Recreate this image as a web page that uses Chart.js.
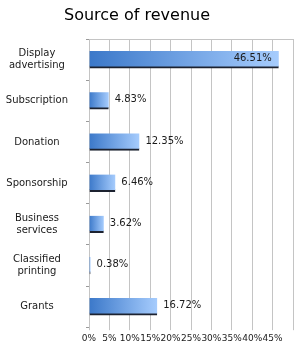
<!DOCTYPE html>
<html>
<head>
<meta charset="utf-8">
<script src="https://cdn.jsdelivr.net/npm/chart.js@4/dist/chart.umd.min.js"></script>
<style>
  html, body { margin: 0; padding: 0; background: #ffffff; }
  #wrap { width: 301px; height: 350px; }
</style>
</head>
<body>
<div id="wrap"><canvas id="c" width="301" height="350"></canvas></div>
<script>
const chartTitle = 'Source of revenue';
const categories = [
  ['Display', 'advertising'],
  'Subscription',
  'Donation',
  'Sponsorship',
  ['Business', 'services'],
  ['Classified', 'printing'],
  'Grants'
];
const revenueShare = [46.51, 4.83, 12.35, 6.46, 3.62, 0.38, 16.72];
const xTickLabels = ['0%', '5%', '10%', '15%', '20%', '25%', '30%', '35%', '40%', '45%'];

const FONT = 'DejaVu Sans';

const titlePlugin = {
  id: 'customTitle',
  afterDraw(chart) {
    const c = chart.ctx;
    c.save();
    c.font = '16px "' + FONT + '"';
    c.fillStyle = '#000000';
    c.textAlign = 'center';
    c.textBaseline = 'alphabetic';
    c.fillText(chartTitle, 137, 20);
    c.restore();
  }
};

const valueLabels = {
  id: 'valueLabels',
  afterDatasetsDraw(chart) {
    const c = chart.ctx;
    const meta = chart.getDatasetMeta(0);
    const right = chart.chartArea.right;
    c.save();
    c.font = '10px "' + FONT + '"';
    c.fillStyle = '#1a1a1a';
    c.textBaseline = 'middle';
    meta.data.forEach((bar, i) => {
      const v = chart.data.datasets[0].data[i];
      const txt = v.toFixed(2) + '%';
      const w = c.measureText(txt).width;
      const y = bar.y - 1;
      if (bar.x + 6 + w > right) {
        c.textAlign = 'right';
        c.fillText(txt, bar.x - 7, y);
      } else {
        c.textAlign = 'left';
        c.fillText(txt, bar.x + 6, y);
      }
    });
    c.restore();
  }
};

function barGradient(context) {
  const chart = context.chart;
  if (!chart.chartArea || !chart.scales.x) return '#6fa0e0';
  const xs = chart.scales.x;
  const x0 = xs.getPixelForValue(0);
  let x1 = xs.getPixelForValue(context.raw);
  if (!isFinite(x1) || x1 - x0 < 1) x1 = x0 + 1;
  const g = chart.ctx.createLinearGradient(x0, 0, x1, 0);
  g.addColorStop(0, '#3b78c9');
  g.addColorStop(1, '#a6ccfd');
  return g;
}

new Chart(document.getElementById('c'), {
  type: 'bar',
  data: {
    labels: categories,
    datasets: [{
      data: revenueShare,
      backgroundColor: barGradient,
      borderColor: '#1c2230',
      borderWidth: { top: 0, right: 0, bottom: 2, left: 0 },
      borderSkipped: false,
      barThickness: 17
    }]
  },
  options: {
    indexAxis: 'y',
    responsive: false,
    animation: false,
    devicePixelRatio: 1,
    layout: { padding: { top: 39, left: 0, right: 8, bottom: 3 } },
    plugins: {
      legend: { display: false },
      title: { display: false },
      tooltip: { enabled: false }
    },
    scales: {
      x: {
        min: 0,
        max: 50,
        border: { display: false },
        grid: {
          color: '#c4c4c4',
          lineWidth: 1,
          drawTicks: true,
          tickLength: 3
        },
        ticks: {
          stepSize: 5,
          autoSkip: false,
          maxRotation: 0,
          padding: 3,
          color: '#1a1a1a',
          font: { family: FONT, size: 9 },
          callback: (v, i) => xTickLabels[i] ?? ''
        }
      },
      y: {
        border: { display: false },
        afterFit(scale) {
          scale.width = 89;
          scale.paddingTop = 0;
          scale.paddingBottom = 0;
        },
        grid: {
          offset: true,
          color: (ctx) => ctx.index === 0 ? '#c4c4c4' : 'rgba(0,0,0,0)',
          tickColor: '#9a9a9a',
          tickLength: 3,
          drawOnChartArea: true
        },
        ticks: {
          crossAlign: 'center',
          padding: 18,
          autoSkip: false,
          color: '#1a1a1a',
          font: { family: FONT, size: 10, lineHeight: 1.17 }
        }
      }
    }
  },
  plugins: [titlePlugin, valueLabels]
});
</script>
</body>
</html>
